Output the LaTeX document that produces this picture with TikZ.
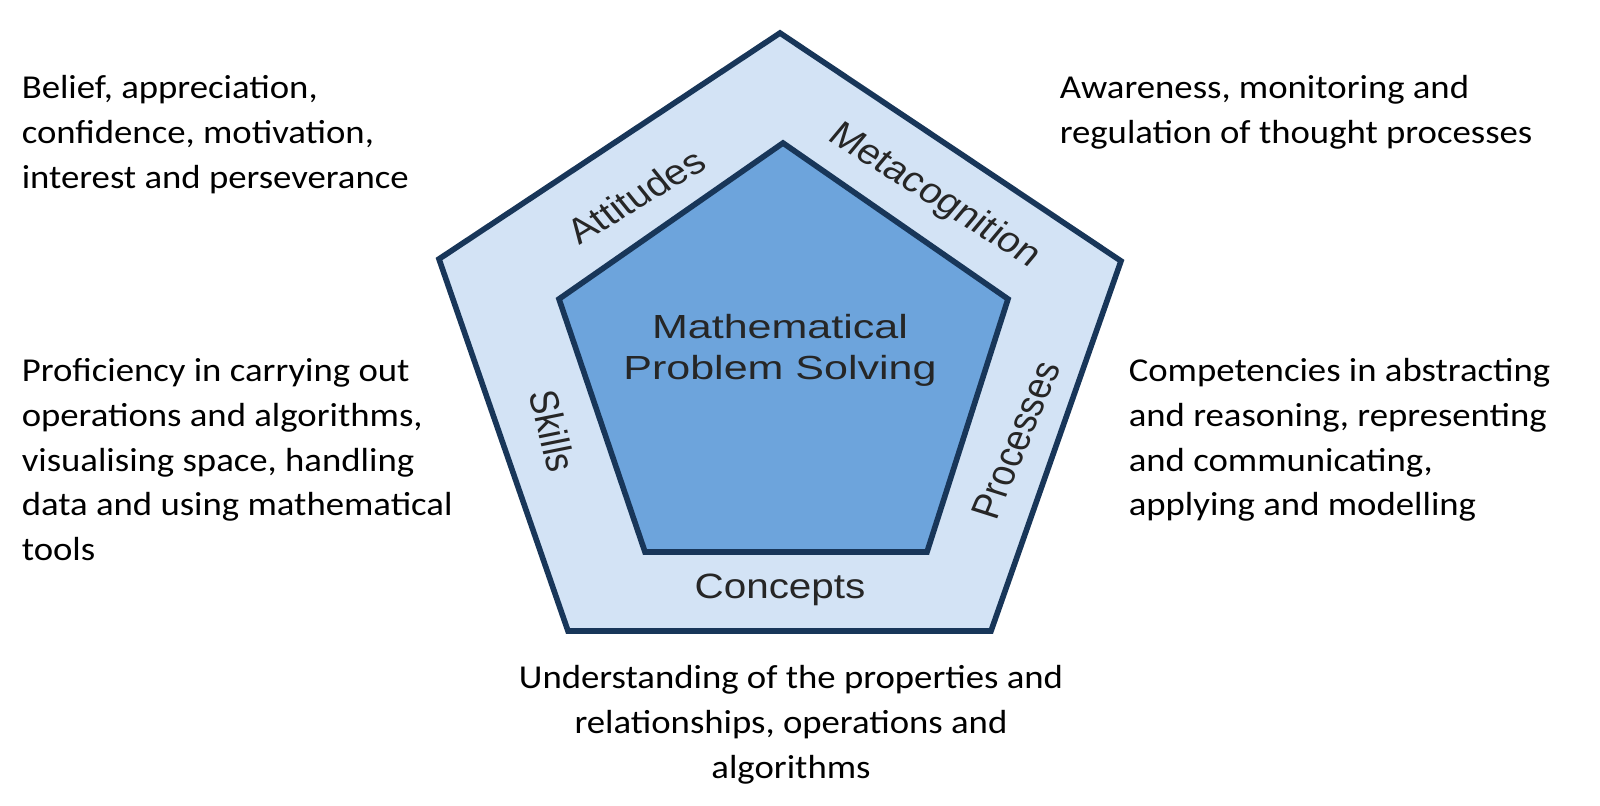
\documentclass[tikz,border=0pt]{standalone}
\usepackage{fontspec}
\setmainfont{Carlito}
\newfontfamily\bandfont{Liberation Sans}
\definecolor{rimblue}{HTML}{183659}
\definecolor{outerblue}{HTML}{D3E3F5}
\definecolor{innerblue}{HTML}{6DA4DC}

\begin{document}
\begin{tikzpicture}[x=0.01cm, y=-0.01cm,
    band/.style={font=\bandfont\fontsize{10}{12}\selectfont, text=black!85, inner sep=0pt, xscale=1.15},
    note/.style={font=\fontsize{9.5}{12.7}\selectfont, inner sep=0pt, xscale=1.1}]
    \useasboundingbox (0,0) rectangle (1600,805);
    % outer pentagon
    \coordinate (T) at (780,33);
    \coordinate (R) at (1121,261);
    \coordinate (BR) at (991,631);
    \coordinate (BL) at (568,631);
    \coordinate (L) at (439,259);
    % inner pentagon
    \coordinate (t) at (783,143);
    \coordinate (r) at (1008,299);
    \coordinate (br) at (927,552);
    \coordinate (bl) at (645,552);
    \coordinate (l) at (559,299);
    \draw[fill=outerblue, draw=rimblue, line width=1.6pt] (T) -- (R) -- (BR) -- (BL) -- (L) -- cycle;
    \draw[fill=innerblue, draw=rimblue, line width=1.6pt] (t) -- (r) -- (br) -- (bl) -- (l) -- cycle;
    % band labels
    \node[band, rotate=35] (att) at (636,196) {Attitudes};
    \node[band, rotate=-36] (meta) at (934,196) {Metacognition};
    \node[band, rotate=-77] (skl) at (553,431) {Skills};
    \node[band, rotate=70] (proc) at (1016,440) {Processes};
    \node[band, anchor=base] (conc) at (780,598) {Concepts};
    \node[band, font=\bandfont\fontsize{9.5}{11.4}\selectfont, xscale=1.12, align=center, anchor=north] (mps) at (780,314) {Mathematical\\Problem Solving};
    % descriptions
    \node[note, anchor=north west, align=left] (belief) at (21,75) {Belief, appreciation,\\confidence, motivation,\\interest and perseverance};
    \node[note, anchor=north west, align=left] (aware) at (1059,75) {Awareness, monitoring and\\regulation of thought processes};
    \node[note, anchor=north west, align=left] (prof) at (21,358) {Proficiency in carrying out\\operations and algorithms,\\visualising space, handling\\data and using mathematical\\tools};
    \node[note, anchor=north west, align=left] (comp) at (1128,358) {Competencies in abstracting\\and reasoning, representing\\and communicating,\\applying and modelling};
    \node[note, anchor=north, align=center] (under) at (791,665) {Understanding of the properties and\\relationships, operations and\\algorithms};
\end{tikzpicture}
\end{document}
